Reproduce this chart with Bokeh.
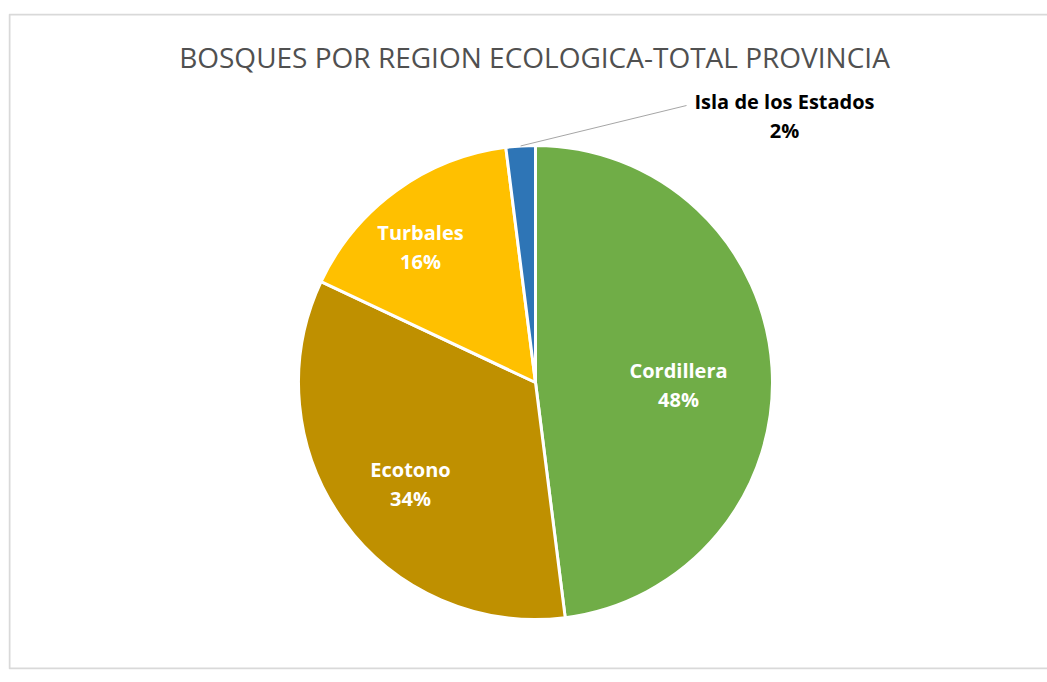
import numpy as np
from bokeh.plotting import figure
from bokeh.models import Range1d, ColumnDataSource
from bokeh.core.properties import value
from bokeh.embed import file_html
from bokeh.resources import INLINE

# ---- data ----
categories = ["Cordillera", "Ecotono", "Turbales", "Isla de los Estados"]
percents = [48, 34, 16, 2]
colors = ["#70AD47", "#BF9000", "#FFC000", "#2E75B6"]
title_text = "BOSQUES POR REGION ECOLOGICA-TOTAL PROVINCIA"

# ---- layout (pixels) ----
W, H = 1047, 680
left_b, top_b, bot_b = 8, 13, 11
plot_w = W - left_b
plot_h = H - top_b - bot_b
cx, cy = 527, 287          # data units == pixels
R = 237
# label middle offsets from center (page px, y down)
label_off = [(143, 2), (-125, 101), (-115, -136), (249, -267)]
label_color = ["white", "white", "white", "black"]
font = "Open Sans"

p = figure(width=W, height=H, output_backend="svg", toolbar_location=None,
           x_range=Range1d(0, plot_w), y_range=Range1d(0, plot_h),
           min_border_left=left_b, min_border_right=0,
           min_border_top=top_b, min_border_bottom=bot_b)
p.axis.visible = False
p.grid.visible = False
p.outline_line_color = None
p.background_fill_color = "white"
p.border_fill_color = "white"

# chart frame (top, left, bottom edges; right edge is cut off in the original)
p.line(x=[plot_w + 5, 1, 1, plot_w + 5], y=[plot_h - 1, plot_h - 1, 1, 1],
       line_color="#D9D9D9", line_width=2)

frac = np.array(percents, dtype=float) / sum(percents)
cum = np.concatenate([[0], np.cumsum(frac)])
start = np.pi / 2 - 2 * np.pi * cum[:-1]
end = np.pi / 2 - 2 * np.pi * cum[1:]
src = ColumnDataSource(dict(start=start, end=end, color=colors, cat=categories))
p.wedge(x=cx, y=cy, radius=R, start_angle="start", end_angle="end",
        direction="clock", fill_color="color", line_color="white",
        line_width=3, source=src)

# labels
names, pcts, lx, ly_n, ly_p, lc = [], [], [], [], [], []
for cat, pc, (dx, dy), col in zip(categories, percents, label_off, label_color):
    names.append(cat)
    pcts.append(f"{pc}%")
    lx.append(cx + dx)
    ly_n.append(cy - dy + 14)
    ly_p.append(cy - dy - 15)
    lc.append(col)
lsrc = ColumnDataSource(dict(x=lx, yn=ly_n, yp=ly_p, n=names, pc=pcts, c=lc))
for ycol, tcol in (("yn", "n"), ("yp", "pc")):
    p.text(x="x", y=ycol, text=tcol, source=lsrc, text_color="c",
           text_font=value(font), text_font_style="bold",
           text_font_size="20px", text_align="center",
           text_baseline="middle")

# leader line for the small slice
mid = np.pi / 2 - 2 * np.pi * (cum[3] + cum[4]) / 2
x0 = cx + R * np.cos(mid)
y0 = cy + R * np.sin(mid)
p.line(x=[x0, cx + label_off[3][0] - 98], y=[y0, cy - label_off[3][1] + 10],
       line_color="#A6A6A6", line_width=1)

# title
p.text(x=[526], y=[613], text=[title_text], text_color="#505050",
       text_font=value(font), text_font_size="28px",
       text_align="center", text_baseline="middle")

open("out.html", "w").write(file_html(p, INLINE))
